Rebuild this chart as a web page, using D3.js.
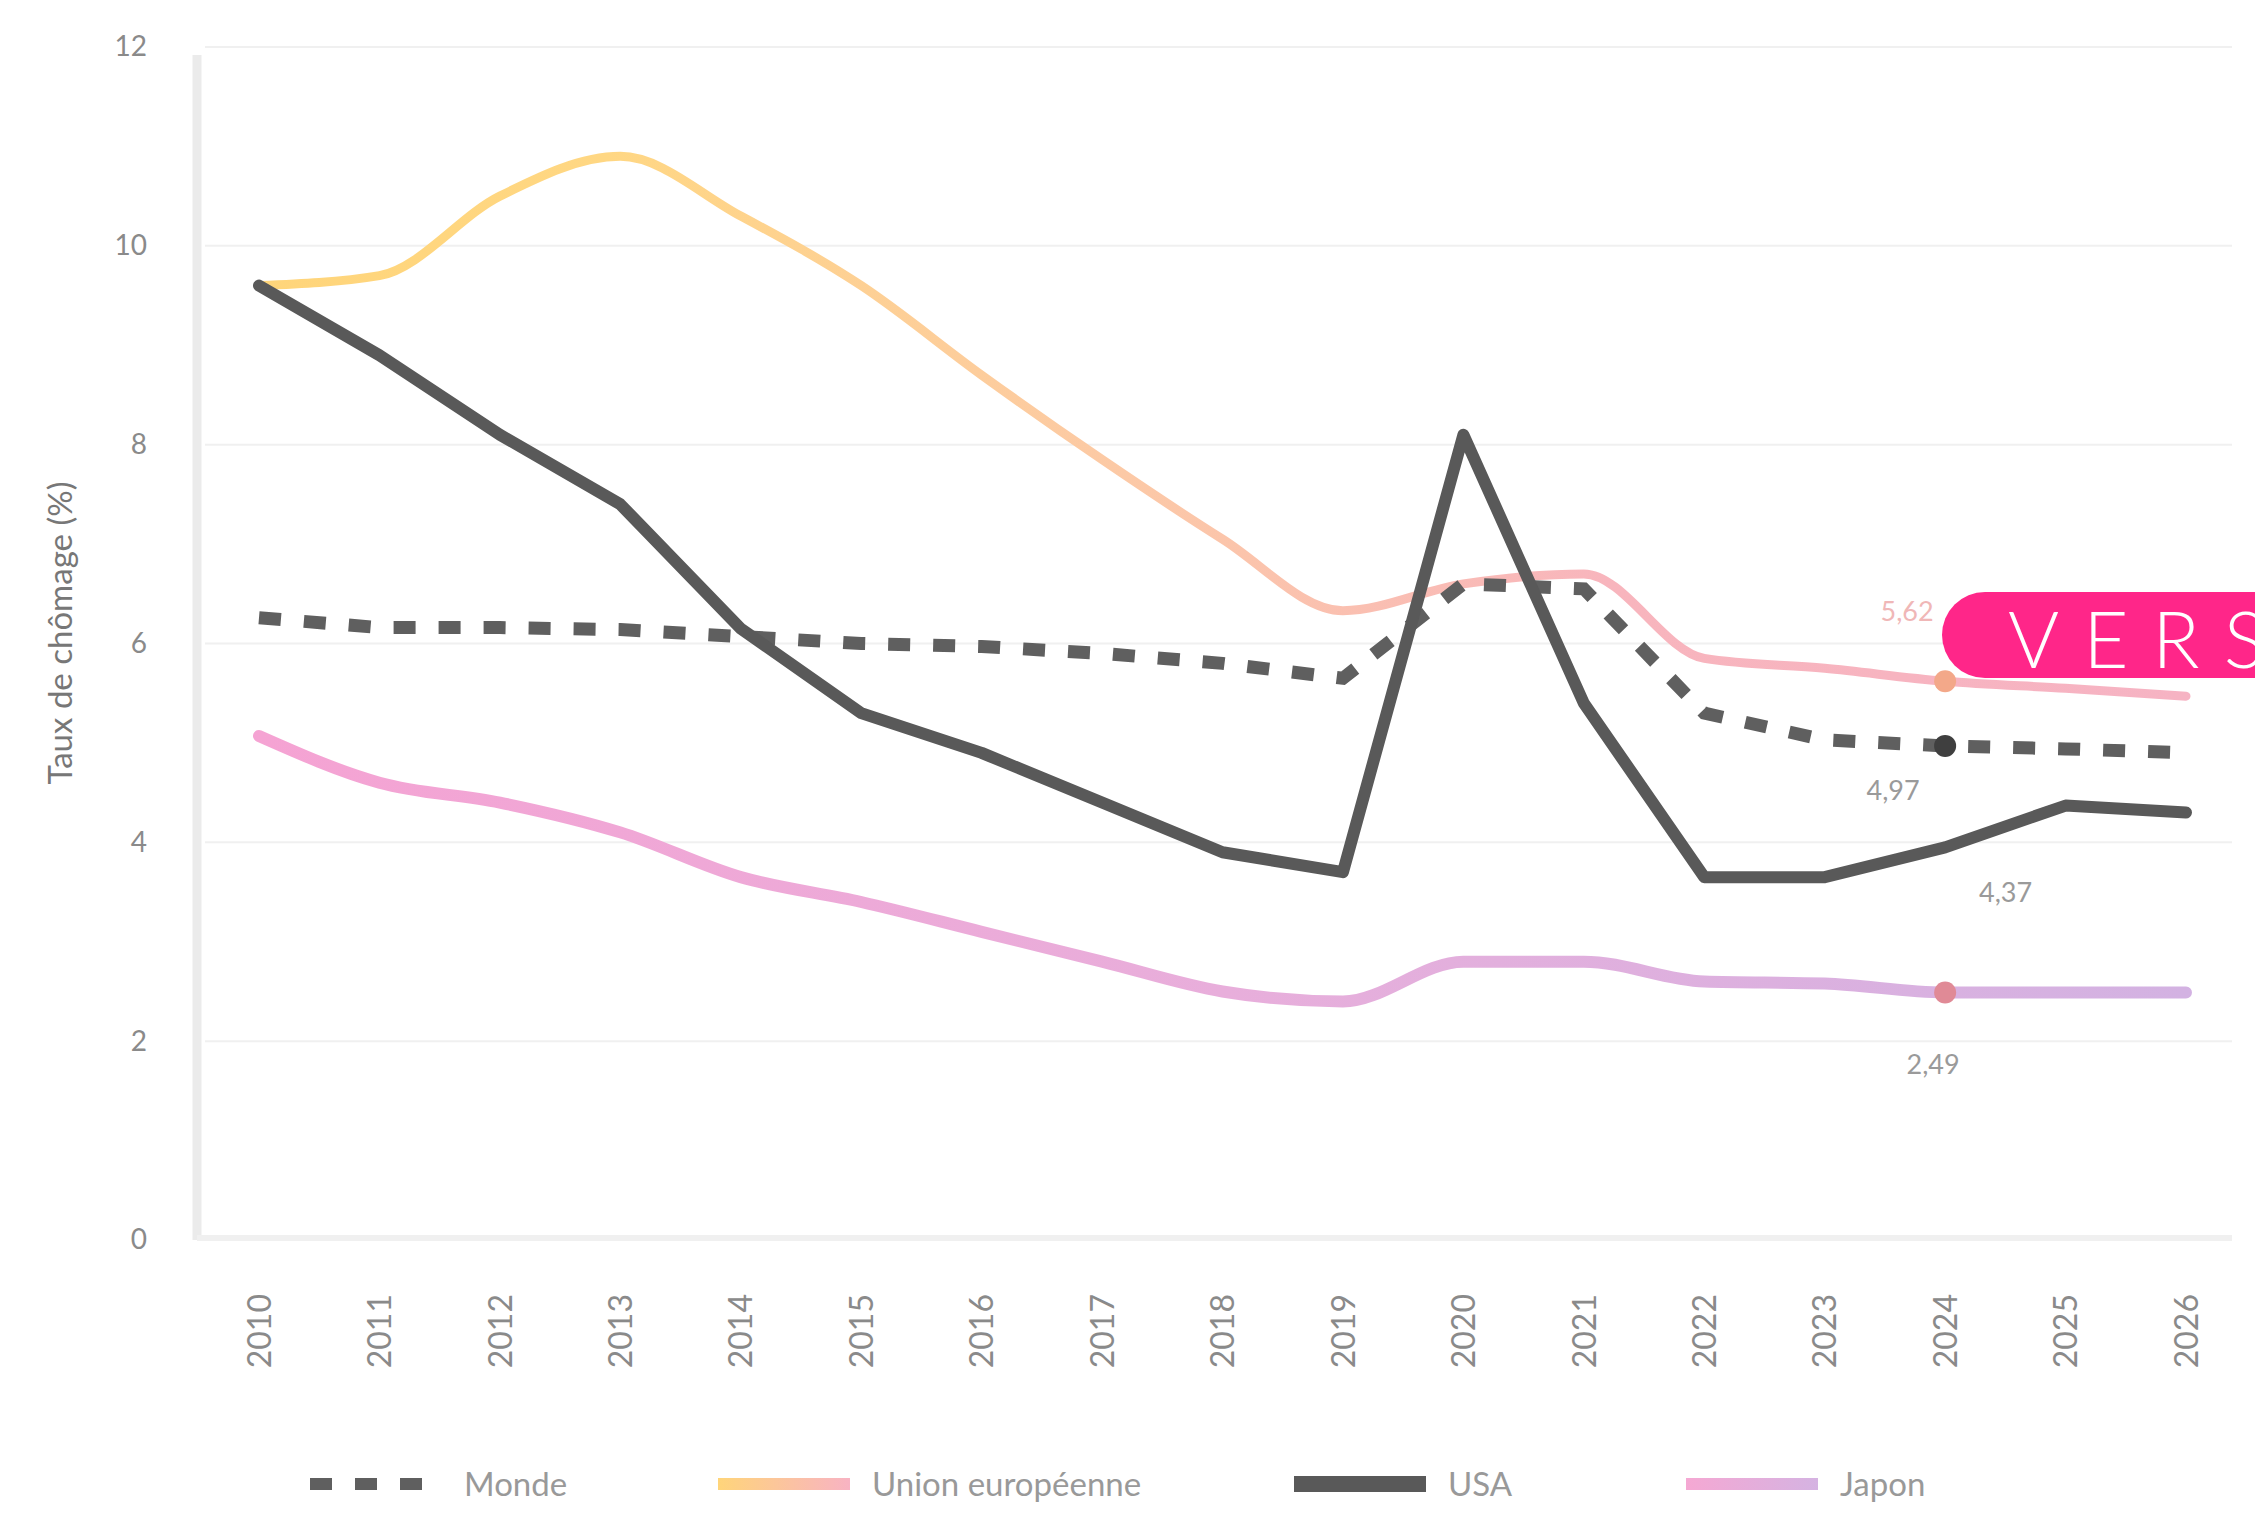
<!DOCTYPE html>
<html>
<head>
<meta charset="utf-8">
<script src="https://cdn.jsdelivr.net/npm/d3@7"></script>
<style>
  html, body { margin: 0; padding: 0; background: #ffffff; overflow: hidden; }
  svg { display: block; }
</style>
</head>
<body>
<svg id="chart" width="2255" height="1527"></svg>
<script>
// ---------------- DATA ----------------
const years = ["2010","2011","2012","2013","2014","2015","2016","2017","2018","2019","2020","2021","2022","2023","2024","2025","2026"];
const yTicks = [0, 2, 4, 6, 8, 10, 12];
const seriesNames = ["Monde", "Union européenne", "USA", "Japon"];
const monde   = [6.26, 6.16, 6.16, 6.14, 6.07, 6.00, 5.97, 5.90, 5.80, 5.65, 6.60, 6.55, 5.30, 5.03, 4.97, 4.94, 4.90];
const ue      = [9.60, 9.70, 10.50, 10.90, 10.30, 9.60, 8.70, 7.85, 7.05, 6.33, 6.60, 6.70, 5.85, 5.75, 5.62, 5.55, 5.47];
const usa     = [9.60, 8.90, 8.10, 7.40, 6.15, 5.30, 4.90, 4.40, 3.90, 3.70, 8.10, 5.40, 3.65, 3.65, 3.95, 4.37, 4.30];
const japon   = [5.07, 4.60, 4.40, 4.10, 3.65, 3.40, 3.10, 2.80, 2.50, 2.40, 2.80, 2.80, 2.60, 2.58, 2.49, 2.49, 2.49];
const yTitle = "Taux de chômage (%)";
const badgeText = "VERSION";
const markYear = "2024";

// ---------------- LAYOUT ----------------
const svg = d3.select("#chart");
const x = d3.scalePoint().domain(years).range([259, 2186]);
const y = d3.scaleLinear().domain([0, 12]).range([1240, 47]);
const axisX0 = 197, plotRight = 2232;
const fontFam = "Lato, 'Open Sans', 'DejaVu Sans', sans-serif";

const defs = svg.append("defs");
const gEU = defs.append("linearGradient").attr("id", "gradEU")
  .attr("gradientUnits", "userSpaceOnUse").attr("x1", x("2010")).attr("x2", x("2026")).attr("y1", 0).attr("y2", 0);
[["0%", "#ffd57a"], ["18%", "#ffd783"], ["45%", "#fcc9a6"], ["70%", "#f8b5bd"], ["100%", "#f6b3c3"]]
  .forEach(s => gEU.append("stop").attr("offset", s[0]).attr("stop-color", s[1]));
const gJP = defs.append("linearGradient").attr("id", "gradJP")
  .attr("gradientUnits", "userSpaceOnUse").attr("x1", x("2010")).attr("x2", x("2026")).attr("y1", 0).attr("y2", 0);
[["0%", "#f5a3d3"], ["50%", "#e8aedb"], ["100%", "#d3b2e2"]]
  .forEach(s => gJP.append("stop").attr("offset", s[0]).attr("stop-color", s[1]));
const gLegEU = defs.append("linearGradient").attr("id", "gradLegEU").attr("x1", "0%").attr("x2", "100%");
[["0%", "#ffd57a"], ["100%", "#f8b3c3"]].forEach(s => gLegEU.append("stop").attr("offset", s[0]).attr("stop-color", s[1]));
const gLegJP = defs.append("linearGradient").attr("id", "gradLegJP").attr("x1", "0%").attr("x2", "100%");
[["0%", "#f5a8d3"], ["100%", "#d5b3e2"]].forEach(s => gLegJP.append("stop").attr("offset", s[0]).attr("stop-color", s[1]));

// gridlines
svg.append("g").selectAll("line").data(yTicks.filter(d => d > 0)).join("line")
  .attr("x1", axisX0 + 8).attr("x2", plotRight)
  .attr("y1", d => y(d)).attr("y2", d => y(d))
  .attr("stroke", "#f0f0f0").attr("stroke-width", 2);

// axes lines
svg.append("line").attr("x1", axisX0).attr("x2", axisX0).attr("y1", y(12) + 8).attr("y2", y(0))
  .attr("stroke", "#ebebeb").attr("stroke-width", 9);
svg.append("line").attr("x1", axisX0).attr("x2", plotRight).attr("y1", y(0) - 2).attr("y2", y(0) - 2)
  .attr("stroke", "#f0f0f0").attr("stroke-width", 6);

// y axis via d3.axisLeft
const yAxis = svg.append("g").attr("transform", `translate(${axisX0 - 50},0)`)
  .call(d3.axisLeft(y).tickValues(yTicks).tickSize(0).tickPadding(0));
yAxis.select(".domain").remove();
yAxis.selectAll("text").attr("font-family", fontFam).attr("font-size", 28).attr("fill", "#8a8a8a");

// x axis via d3.axisBottom
const xAxis = svg.append("g").attr("transform", `translate(0,${y(0) + 54})`)
  .call(d3.axisBottom(x).tickSize(0).tickPadding(0));
xAxis.select(".domain").remove();
xAxis.selectAll("text")
  .attr("font-family", fontFam).attr("font-size", 32).attr("fill", "#8a8a8a")
  .attr("text-anchor", "end").attr("dy", "0.35em")
  .attr("transform", "rotate(-90)").attr("x", 0).attr("y", 0);

// y title
svg.append("text").attr("transform", `translate(72,633) rotate(-90)`)
  .attr("text-anchor", "middle").attr("font-family", fontFam).attr("font-size", 33).attr("fill", "#777")
  .text(yTitle);

// lines
const lineLin = d3.line().x((d, i) => x(years[i])).y(d => y(d));
const lineSmooth = d3.line().x((d, i) => x(years[i])).y(d => y(d)).curve(d3.curveMonotoneX);

svg.append("path").datum(japon).attr("d", lineSmooth).attr("fill", "none")
  .attr("stroke", "url(#gradJP)").attr("stroke-width", 12).attr("stroke-linecap", "round").attr("stroke-linejoin", "round");
svg.append("path").datum(ue).attr("d", lineSmooth).attr("fill", "none")
  .attr("stroke", "url(#gradEU)").attr("stroke-width", 9).attr("stroke-linecap", "round").attr("stroke-linejoin", "round");
svg.append("path").datum(monde).attr("d", lineLin).attr("fill", "none")
  .attr("stroke", "#5f5f5f").attr("stroke-width", 13).attr("stroke-dasharray", "22,23");
svg.append("path").datum(usa).attr("d", lineLin).attr("fill", "none")
  .attr("stroke", "#595959").attr("stroke-width", 12).attr("stroke-linecap", "round").attr("stroke-linejoin", "round");

// markers at markYear
const mi = years.indexOf(markYear);
const markers = [
  { v: ue[mi], c: "#f3a889" },
  { v: monde[mi], c: "#3f3f3f" },
  { v: japon[mi], c: "#e08a96" }
];
svg.append("g").selectAll("circle").data(markers).join("circle")
  .attr("cx", x(markYear)).attr("cy", d => y(d.v)).attr("r", 11).attr("fill", d => d.c);

// value labels
const fmt = v => d3.format(".2f")(v).replace(".", ",");
const labels = [
  { v: ue[mi], yr: markYear, dx: -38, dy: -60, c: "#f0b7b7" },
  { v: monde[mi], yr: markYear, dx: -52, dy: 54, c: "#9a9a9a" },
  { v: usa[mi + 1], yr: years[mi + 1], dx: -60, dy: 96, c: "#9a9a9a" },
  { v: japon[mi], yr: markYear, dx: -12, dy: 82, c: "#9a9a9a" }
];
svg.append("g").selectAll("text").data(labels).join("text")
  .attr("x", d => x(d.yr) + d.dx).attr("y", d => y(d.v) + d.dy)
  .attr("text-anchor", "middle").attr("font-family", fontFam).attr("font-size", 27)
  .attr("fill", d => d.c).text(d => fmt(d.v));

// legend
const legY = 1484;
const legend = [
  { name: seriesNames[0], x0: 304, type: "dash" },
  { name: seriesNames[1], x0: 712, type: "eu" },
  { name: seriesNames[2], x0: 1288, type: "us" },
  { name: seriesNames[3], x0: 1680, type: "jp" }
];
const lg = svg.append("g").selectAll("g").data(legend).join("g").attr("transform", d => `translate(${d.x0},${legY})`);
lg.append("line").attr("x1", 6).attr("x2", 138).attr("y1", 0).attr("y2", 0)
  .attr("stroke", d => d.type === "dash" ? "#5f5f5f" : d.type === "eu" ? "url(#gradLegEU)" : d.type === "us" ? "#595959" : "url(#gradLegJP)")
  .attr("stroke-width", d => d.type === "us" ? 16 : 12)
  .attr("stroke-dasharray", d => d.type === "dash" ? "22,23" : null);
lg.append("rect").attr("x", 6).attr("y", -6).attr("width", 132).attr("height", 12)
  .attr("fill", d => d.type === "eu" ? "url(#gradLegEU)" : d.type === "jp" ? "url(#gradLegJP)" : "none");
lg.append("text").attr("x", 160).attr("y", 0).attr("dy", "0.35em")
  .attr("font-family", fontFam).attr("font-size", 33).attr("fill", "#999").text(d => d.name);

// badge
const badge = svg.append("g").attr("transform", "translate(1942,592)");
badge.append("rect").attr("x", 0).attr("y", 0).attr("width", 420).attr("height", 86).attr("rx", 43)
  .attr("fill", "#ff2689");
badge.append("text").attr("x", 66).attr("y", 76).attr("font-family", "Lato, 'Open Sans', sans-serif")
  .attr("font-weight", 300).attr("font-size", 78).attr("letter-spacing", 24).attr("fill", "#ffffff")
  .text(badgeText);
</script>
</body>
</html>
